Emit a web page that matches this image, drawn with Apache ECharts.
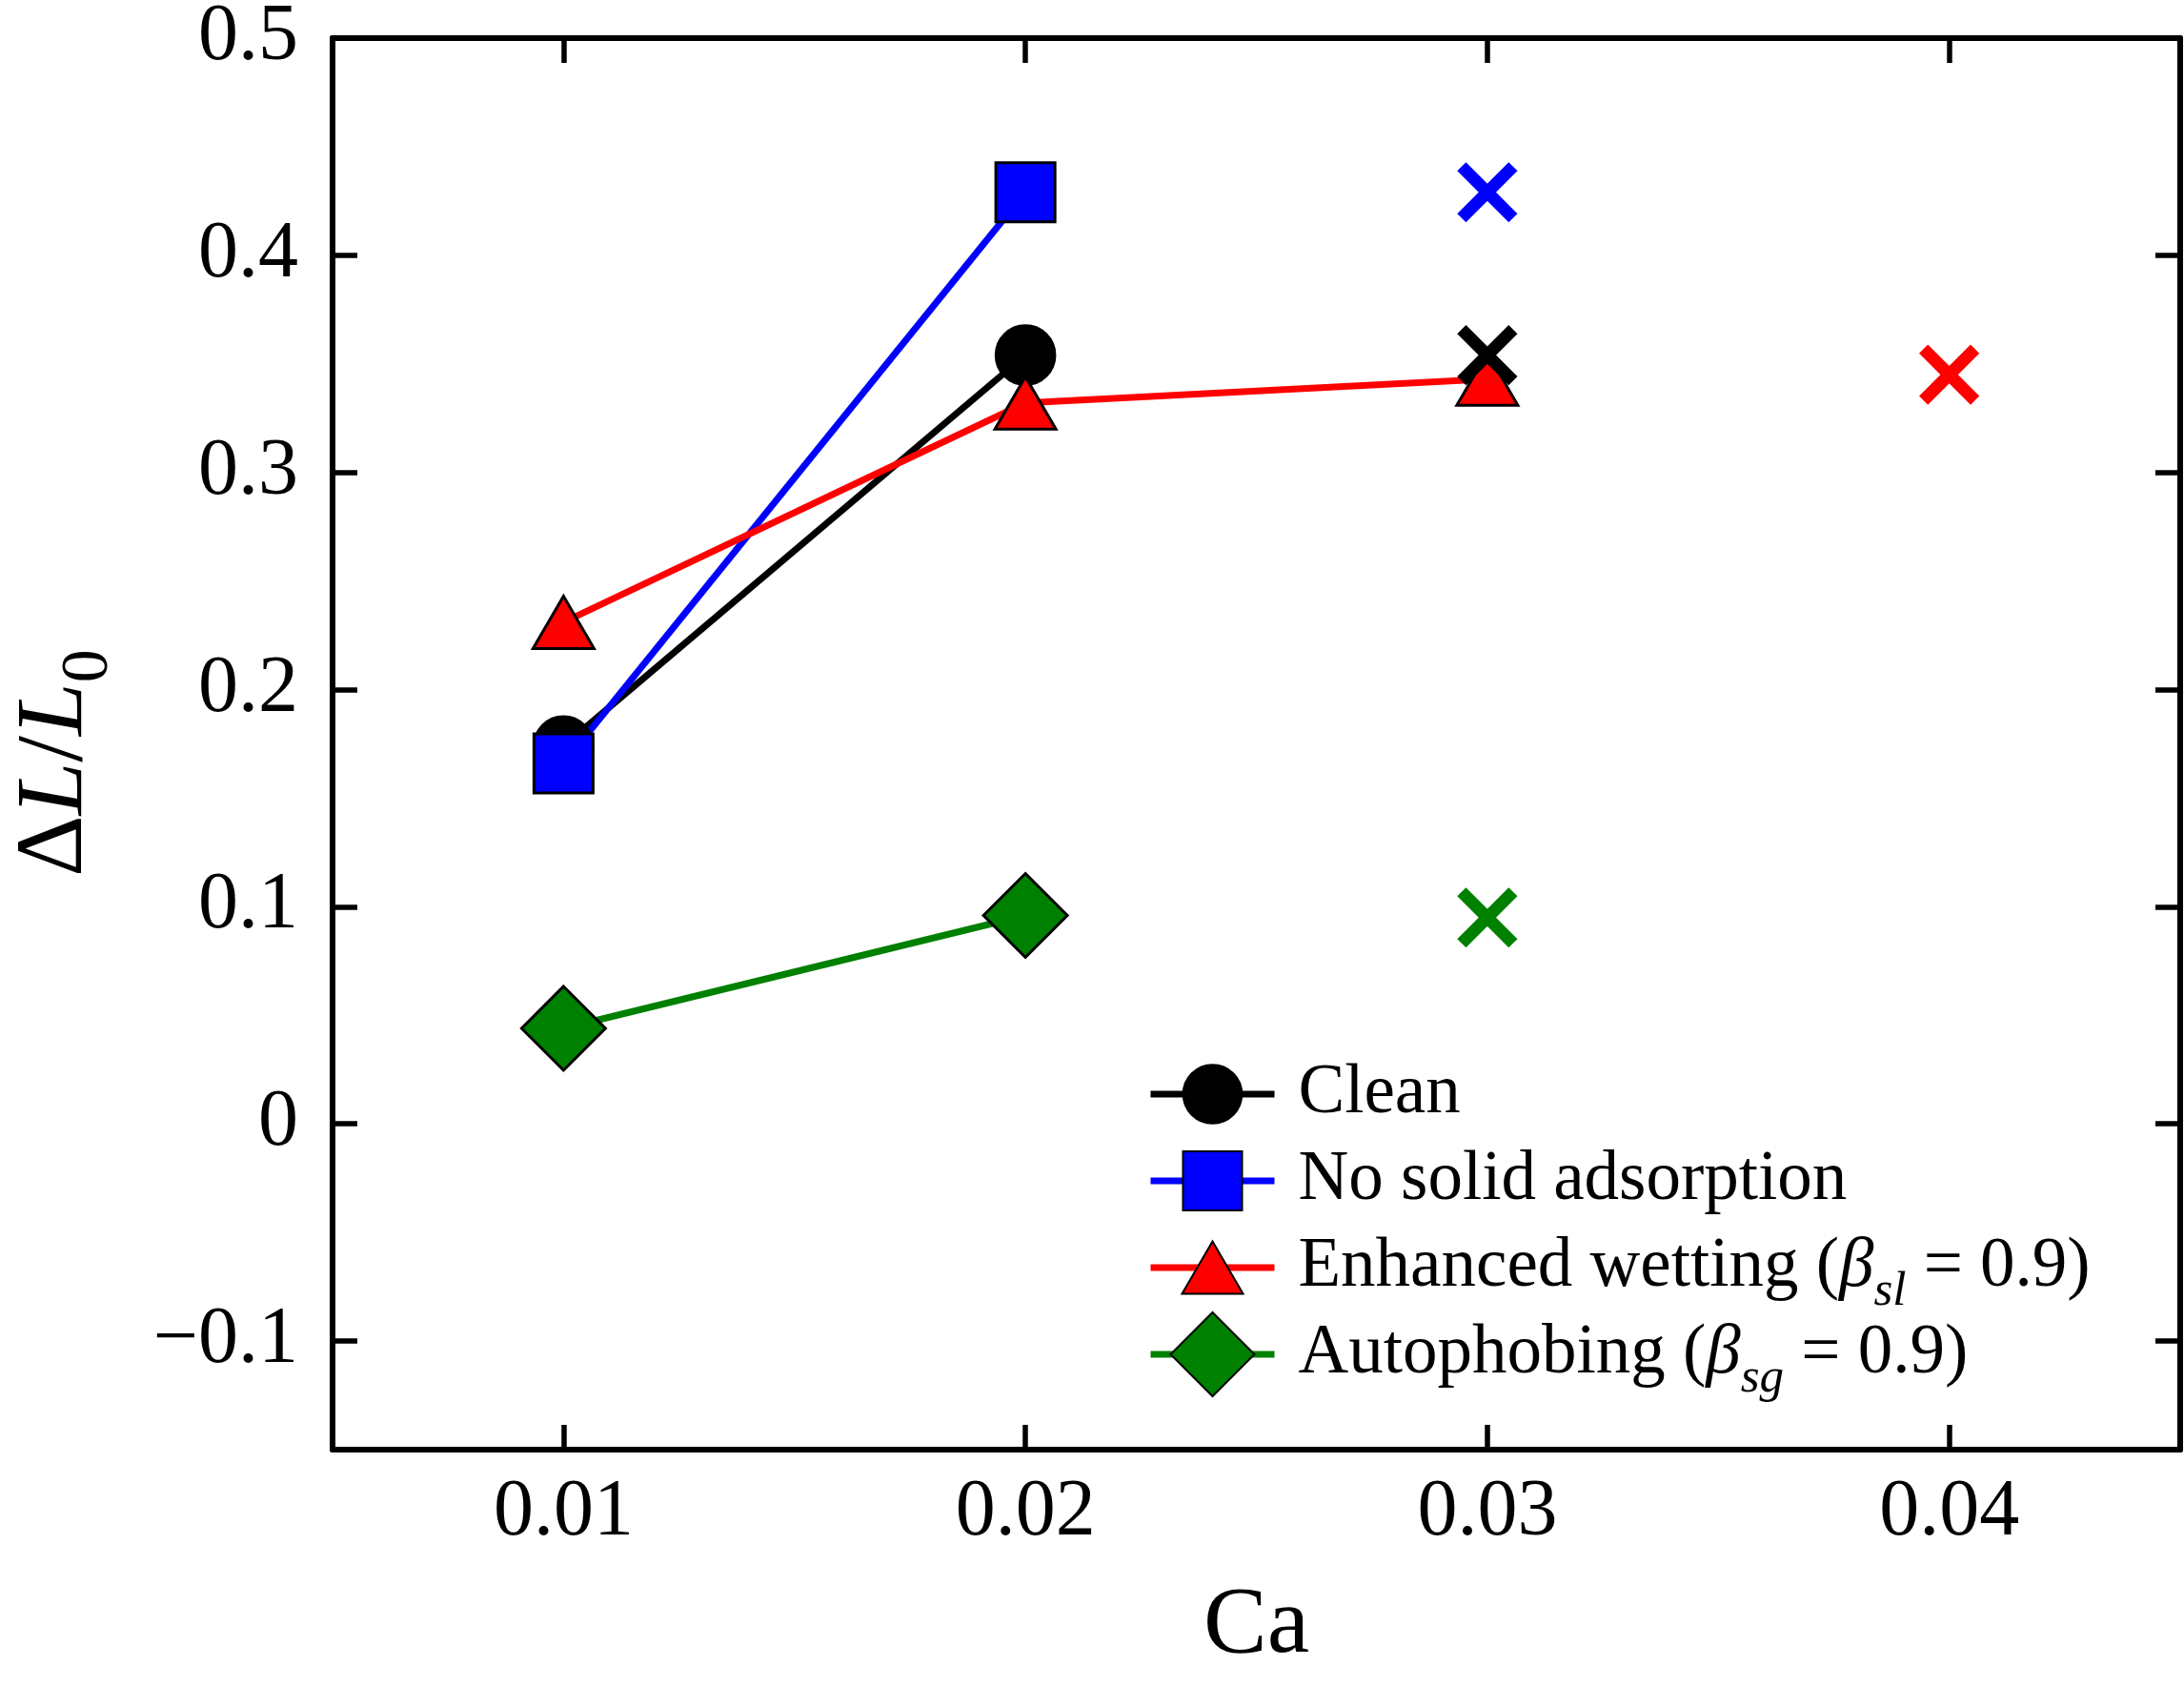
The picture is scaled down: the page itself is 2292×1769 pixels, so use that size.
<!DOCTYPE html>
<html>
<head>
<meta charset="utf-8">
<script src="https://cdn.jsdelivr.net/npm/echarts@6/dist/echarts.min.js"></script>
<style>
html, body { margin: 0; padding: 0; background: #ffffff; }
#chart { width: 2292px; height: 1769px; }
</style>
</head>
<body>
<div id="chart"></div>
<script>
// ---------------- data ----------------
const caValues = [0.01, 0.02, 0.03];
const cleanValues = [0.174, 0.354];
const noAdsorptionValues = [0.166, 0.429];
const enhancedValues = [0.231, 0.332, 0.343];
const autophobingValues = [0.044, 0.096];

const cleanCross = [[0.03, 0.354]];
const noAdsorptionCross = [[0.03, 0.429]];
const enhancedCross = [[0.04, 0.345]];
const autophobingCross = [[0.03, 0.095]];

const xTicks = [0.01, 0.02, 0.03, 0.04];
const yTicks = [-0.1, 0, 0.1, 0.2, 0.3, 0.4, 0.5];

const seriesNames = ['Clean', 'No solid adsorption', 'Enhanced wetting (βsl = 0.9)', 'Autophobing (βsg = 0.9)'];
const legendLabels = {
  'Clean': 'Clean',
  'No solid adsorption': 'No solid adsorption',
  'Enhanced wetting (βsl = 0.9)': 'Enhanced wetting ({b|β}{s|sl} = 0.9)',
  'Autophobing (βsg = 0.9)': 'Autophobing ({b|β}{s|sg} = 0.9)'
};

// ---------------- styling ----------------
const FONT = "'Liberation Serif', 'Times New Roman', serif";
const symCircle = 'path://M0 0M100 100M85 50C85 69.33 69.33 85 50 85C30.67 85 15 69.33 15 50C15 30.67 30.67 15 50 15C69.33 15 85 30.67 85 50Z';
const symSquare = 'path://M0 0M100 100M14.75 14.75L85.25 14.75L85.25 85.25L14.75 85.25Z';
const symTriangle = 'path://M0 0M100 100M50 18.75L86.4 81.25L13.6 81.25Z';
const symDiamond = 'path://M50 0L100 50L50 100L0 50Z';
const symCross = 'path://M0 0L100 100M100 0L0 100';

function pairs(values) { return values.map((v, i) => [caValues[i], v]); }

function lineSeries(name, values, color, symbol) {
  return {
    type: 'line', name: name, data: pairs(values),
    symbol: symbol, symbolSize: 88, showSymbol: true, showAllSymbol: true,
    lineStyle: { color: color, width: 7 },
    itemStyle: { color: color, borderColor: '#000000', borderWidth: 3, opacity: 1 },
    emphasis: { disabled: true }, silent: true, animation: false
  };
}
function crossSeries(data, color) {
  return {
    type: 'scatter', data: data, symbol: symCross, symbolSize: 54,
    itemStyle: { color: color, borderColor: color, borderWidth: 13, opacity: 1 },
    emphasis: { disabled: true }, silent: true, animation: false, z: 5
  };
}

const yFmt = v => (Math.abs(v) < 1e-9 ? '0' : (v < 0 ? '\u2212' + Math.abs(v).toFixed(1) : v.toFixed(1)));
const xFmt = v => v.toFixed(2);

const axisLineStyle = { show: true, onZero: false, lineStyle: { color: '#000000', width: 6 } };
const tickStyle = { show: true, inside: true, length: 26, lineStyle: { color: '#000000', width: 5.5 } };

const option = {
  backgroundColor: '#ffffff',
  animation: false,
  grid: { left: 349, top: 40, right: 4, bottom: 248, containLabel: false, outerBoundsMode: 'none' },
  xAxis: [
    {
      type: 'value', position: 'bottom', min: 0.005, max: 0.045,
      axisLine: axisLineStyle,
      axisTick: Object.assign({}, tickStyle, { customValues: xTicks }),
      axisLabel: { show: true, customValues: xTicks, formatter: xFmt, margin: 25,
        fontFamily: FONT, fontSize: 84, color: '#000000' },
      splitLine: { show: false },
      name: 'Ca', nameLocation: 'middle', nameGap: 136,
      nameTextStyle: { fontFamily: FONT, fontSize: 100, color: '#000000' }
    },
    {
      type: 'value', position: 'top', min: 0.005, max: 0.045,
      axisLine: axisLineStyle,
      axisTick: Object.assign({}, tickStyle, { customValues: xTicks }),
      axisLabel: { show: false, customValues: xTicks },
      splitLine: { show: false }
    }
  ],
  yAxis: [
    {
      type: 'value', position: 'left', min: -0.15, max: 0.5,
      axisLine: axisLineStyle,
      axisTick: Object.assign({}, tickStyle, { customValues: yTicks }),
      axisLabel: { show: true, customValues: yTicks, formatter: yFmt, margin: 36,
        fontFamily: FONT, fontSize: 84, color: '#000000' },
      splitLine: { show: false },
      name: '{r|Δ}{i|L}{r|/}{i|L}{s|0}', nameLocation: 'middle', nameGap: 240, nameRotate: 90,
      nameTextStyle: {
        fontFamily: FONT, fontSize: 100, color: '#000000', padding: [0, 40, 0, 0],
        rich: {
          r: { fontFamily: FONT, fontSize: 100, lineHeight: 100, color: '#000000' },
          i: { fontFamily: FONT, fontSize: 100, lineHeight: 100, fontStyle: 'italic', color: '#000000' },
          s: { fontFamily: FONT, fontSize: 70, lineHeight: 70, padding: [70, 0, 0, 0], color: '#000000' }
        }
      }
    },
    {
      type: 'value', position: 'right', min: -0.15, max: 0.5,
      axisLine: axisLineStyle,
      axisTick: Object.assign({}, tickStyle, { customValues: yTicks }),
      axisLabel: { show: false, customValues: yTicks },
      splitLine: { show: false }
    }
  ],
  legend: {
    data: seriesNames, orient: 'vertical', left: 1204, top: 1093, padding: 0,
    itemWidth: 130, itemHeight: 110, itemGap: -19, selectedMode: false,
    lineStyle: { width: 7 },
    formatter: name => legendLabels[name],
    textStyle: {
      fontFamily: FONT, fontSize: 73, lineHeight: 110, color: '#000000', padding: [0, 0, 0, 20],
      rich: {
        b: { fontFamily: FONT, fontSize: 73, lineHeight: 73, fontStyle: 'italic', color: '#000000' },
        s: { fontFamily: FONT, fontSize: 51, lineHeight: 51, fontStyle: 'italic', padding: [51, 0, 0, 0], color: '#000000' }
      }
    }
  },
  series: [
    lineSeries(seriesNames[0], cleanValues, '#000000', symCircle),
    lineSeries(seriesNames[1], noAdsorptionValues, '#0000ff', symSquare),
    lineSeries(seriesNames[2], enhancedValues, '#ff0000', symTriangle),
    lineSeries(seriesNames[3], autophobingValues, '#008000', symDiamond),
    crossSeries(cleanCross, '#000000'),
    crossSeries(noAdsorptionCross, '#0000ff'),
    crossSeries(enhancedCross, '#ff0000'),
    crossSeries(autophobingCross, '#008000')
  ]
};

const chart = echarts.init(document.getElementById('chart'), null, { renderer: 'canvas' });
chart.setOption(option);
</script>
</body>
</html>
